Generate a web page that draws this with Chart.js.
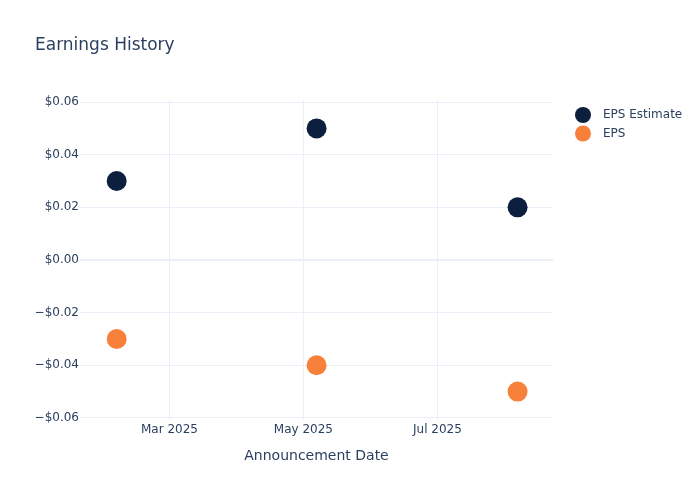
<!DOCTYPE html>
<html>
<head>
<meta charset="utf-8">
<script src="https://cdn.jsdelivr.net/npm/chart.js@4.4.1/dist/chart.umd.min.js"></script>
<style>
  html, body { margin: 0; padding: 0; background: #fff; }
  #wrap { width: 700px; height: 500px; }
</style>
</head>
<body>
<div id="wrap"><canvas id="c" width="700" height="500"></canvas></div>
<script>
const chartTitle = "Earnings History";
const xAxisTitle = "Announcement Date";
const announcementDates = ["2025-02-05T00:00:00Z", "2025-05-07T00:00:00Z", "2025-08-06T12:00:00Z"];
const epsEstimate = [0.03, 0.05, 0.02];
const epsActual = [-0.03, -0.04, -0.05];
const seriesNames = ["EPS Estimate", "EPS"];
const seriesColors = ["#0c1f3f", "#f7813a"];
const xTickDates = ["2025-03-01T00:00:00Z", "2025-05-01T00:00:00Z", "2025-07-01T00:00:00Z"];
const xTickLabels = ["Mar 2025", "May 2025", "Jul 2025"];
const yTickValues = [-0.06, -0.04, -0.02, 0, 0.02, 0.04, 0.06];

const FONT = "'DejaVu Sans', sans-serif";
const TEXT = "#2a3f5f";
const GRID = "#ebf0f8";

function ts(s) { return Date.parse(s); }
function fmtMoney(v) {
  const a = Math.abs(v).toFixed(2);
  if (Math.abs(v) < 1e-9) return "$0.00";
  return (v < 0 ? "\u2212$" : "$") + a;
}

const estPts = announcementDates.map((d, i) => ({ x: ts(d), y: epsEstimate[i] }));
const actPts = announcementDates.map((d, i) => ({ x: ts(d), y: epsActual[i] }));

const overlay = {
  id: "overlay",
  afterDraw(chart) {
    const ctx = chart.ctx;
    ctx.save();
    ctx.fillStyle = TEXT;
    ctx.textBaseline = "alphabetic";
    ctx.textAlign = "left";
    ctx.font = "17px " + FONT;
    ctx.fillText(chartTitle, 35, 50);
    // axis title
    const ca = chart.chartArea;
    ctx.font = "14px " + FONT;
    ctx.textAlign = "center";
    ctx.textBaseline = "middle";
    ctx.fillText(xAxisTitle, (ca.left + ca.right) / 2, 456);
    // legend
    ctx.textAlign = "left";
    ctx.font = "12px " + FONT;
    seriesNames.forEach((n, i) => {
      const y = 115 + i * 18.5;
      ctx.beginPath();
      ctx.arc(583, y, 8, 0, Math.PI * 2);
      ctx.fillStyle = seriesColors[i];
      ctx.fill();
      ctx.fillStyle = TEXT;
      ctx.fillText(n, 603, y);
    });
    ctx.restore();
  }
};

new Chart(document.getElementById("c"), {
  type: "scatter",
  data: {
    datasets: [
      { label: seriesNames[0], data: estPts, backgroundColor: seriesColors[0], borderColor: seriesColors[0], pointRadius: 10, pointHoverRadius: 10, borderWidth: 0 },
      { label: seriesNames[1], data: actPts, backgroundColor: seriesColors[1], borderColor: seriesColors[1], pointRadius: 10, pointHoverRadius: 10, borderWidth: 0 }
    ]
  },
  options: {
    responsive: false,
    animation: false,
    layout: { padding: { top: 100, right: 147, left: 0, bottom: 0 } },
    plugins: { legend: { display: false }, tooltip: { enabled: false }, title: { display: false } },
    scales: {
      x: {
        type: "linear",
        min: Date.UTC(2025, 0, 19, 7),
        max: Date.UTC(2025, 7, 22, 15),
        afterBuildTicks(scale) { scale.ticks = xTickDates.map(d => ({ value: ts(d) })); },
        afterFit(scale) { scale.height = 80; },
        grid: { color: GRID, lineWidth: 1, drawTicks: false },
        border: { display: false },
        ticks: {
          padding: 3,
          color: TEXT,
          font: { family: FONT, size: 12 },
          maxRotation: 0,
          callback(v) { const i = xTickDates.map(ts).indexOf(v); return i >= 0 ? xTickLabels[i] : ""; }
        }
      },
      y: {
        min: -0.0608,
        max: 0.0608,
        afterBuildTicks(scale) { scale.ticks = yTickValues.map(v => ({ value: v })); },
        afterFit(scale) { scale.width = 80; },
        grid: {
          color: GRID,
          lineWidth: (c) => (c.tick && Math.abs(c.tick.value) < 1e-9 ? 2 : 1),
          drawTicks: false
        },
        border: { display: false },
        ticks: {
          padding: 1,
          color: TEXT,
          font: { family: FONT, size: 12 },
          callback(v) { return fmtMoney(v); }
        }
      }
    }
  },
  plugins: [overlay]
});
</script>
</body>
</html>
